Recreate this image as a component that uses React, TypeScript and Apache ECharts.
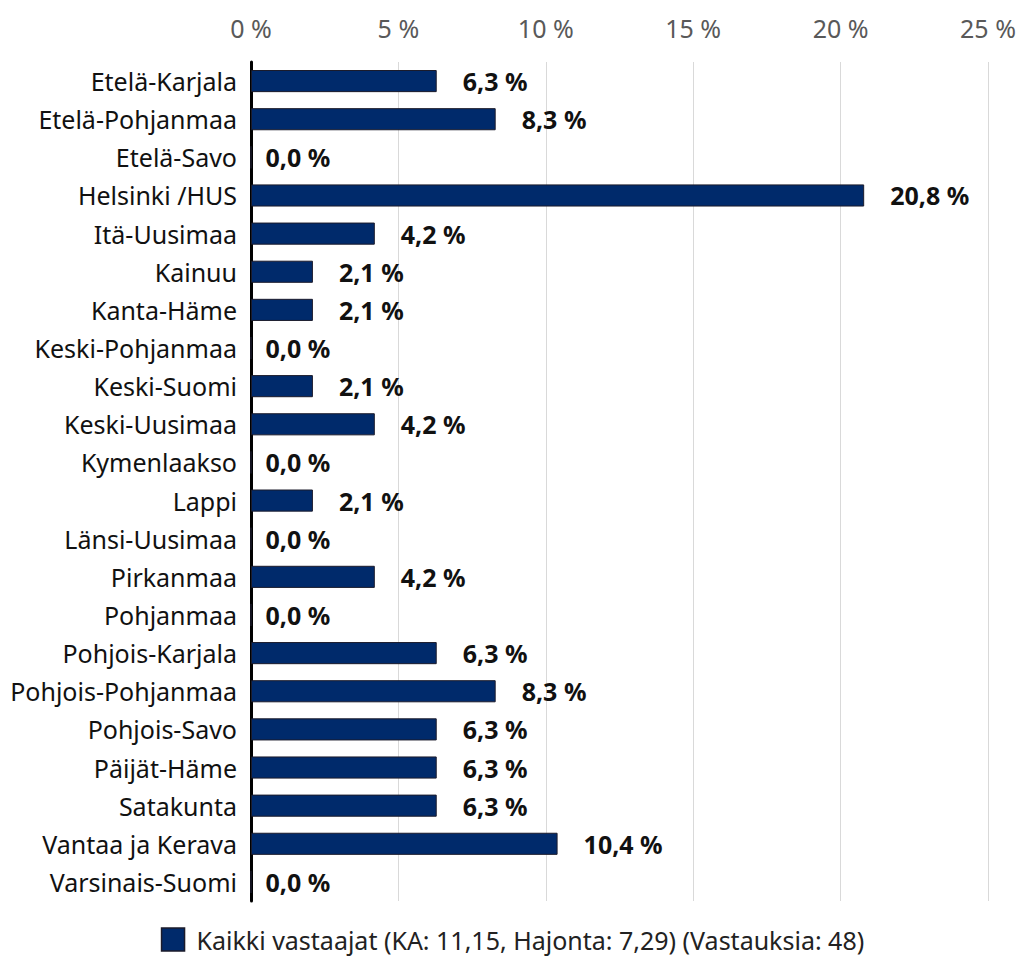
import React, { useEffect, useRef } from "react";
import * as echarts from "echarts";

const categories = [
  "Etelä-Karjala",
  "Etelä-Pohjanmaa",
  "Etelä-Savo",
  "Helsinki /HUS",
  "Itä-Uusimaa",
  "Kainuu",
  "Kanta-Häme",
  "Keski-Pohjanmaa",
  "Keski-Suomi",
  "Keski-Uusimaa",
  "Kymenlaakso",
  "Lappi",
  "Länsi-Uusimaa",
  "Pirkanmaa",
  "Pohjanmaa",
  "Pohjois-Karjala",
  "Pohjois-Pohjanmaa",
  "Pohjois-Savo",
  "Päijät-Häme",
  "Satakunta",
  "Vantaa ja Kerava",
  "Varsinais-Suomi",
];

const values = [
  6.3, 8.3, 0.0, 20.8, 4.2, 2.1, 2.1, 0.0, 2.1, 4.2, 0.0, 2.1, 0.0, 4.2, 0.0,
  6.3, 8.3, 6.3, 6.3, 6.3, 10.4, 0.0,
];

const seriesName = "Kaikki vastaajat (KA: 11,15, Hajonta: 7,29) (Vastauksia: 48)";

const FONT = "'Noto Sans', sans-serif";

export default function App() {
  const ref = useRef<HTMLDivElement>(null);
  useEffect(() => {
    if (!ref.current) return;
    const chart = echarts.init(ref.current, undefined, { renderer: "svg" });
    chart.setOption({
      animation: false,
      textStyle: { fontFamily: FONT },
      grid: { left: 251, right: 37, top: 62, bottom: 57, containLabel: false },
      legend: {
        top: 927,
        left: "center",
        padding: 0,
        icon: "rect",
        itemWidth: 23,
        itemHeight: 23,
        itemStyle: { borderColor: "#1b1b2b", borderWidth: 1.5 },
        textStyle: {
          fontSize: 25,
          lineHeight: 24,
          color: "#222",
          fontFamily: FONT,
          padding: [0, 0, 0, 7],
        },
        data: [seriesName],
      },
      xAxis: {
        type: "value",
        position: "top",
        min: 0,
        max: 25,
        interval: 5,
        axisLine: { show: false },
        axisTick: { show: false },
        axisLabel: {
          formatter: (v: number) => `${v} %`,
          fontSize: 25,
          color: "#595959",
          margin: 22,
          fontFamily: FONT,
        },
        splitLine: { lineStyle: { color: "#d9d9d9", width: 1 } },
      },
      yAxis: {
        type: "category",
        inverse: true,
        data: categories,
        axisLine: { lineStyle: { color: "#000", width: 3 } },
        axisTick: { show: false },
        axisLabel: { fontSize: 25, color: "#111", margin: 14, fontFamily: FONT },
      },
      series: [
        {
          name: seriesName,
          type: "bar",
          barCategoryGap: "42%",
          itemStyle: { color: "#002a6b", borderColor: "#1b1b2b", borderWidth: 1 },
          data: values.map((v) => ({
            value: v,
            label: { distance: v === 0 ? 14 : 26 },
          })),
          label: {
            show: true,
            position: "right",
            formatter: (p: any) => `${p.value.toFixed(1).replace(".", ",")} %`,
            fontSize: 25,
            fontWeight: "bold",
            color: "#111",
            fontFamily: FONT,
          },
        },
      ],
    });
    return () => chart.dispose();
  }, []);
  return (
    <div
      ref={ref}
      style={{ position: "absolute", left: 0, top: 0, width: 1025, height: 958 }}
    />
  );
}
